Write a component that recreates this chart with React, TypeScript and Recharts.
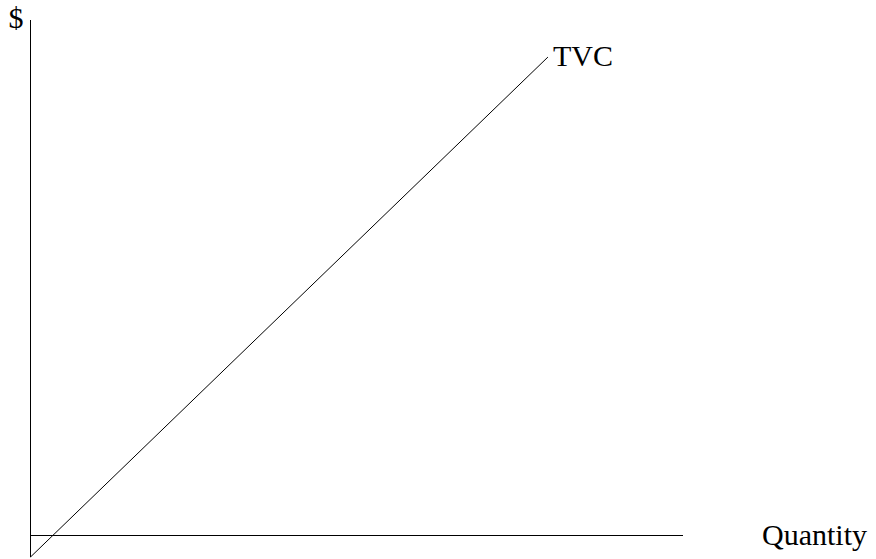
import React from 'react';
import { LineChart, Line, XAxis, YAxis, ReferenceLine, LabelList } from 'recharts';

// quantity (x) and total variable cost (y) in chart units
const quantity = [0, 79.3];
const tvc = [-4, 89.1];
const seriesName = 'TVC';
const xTitle = 'Quantity';
const yTitle = '$';

const data = quantity.map((q, i) => ({ q, tvc: tvc[i] }));

const textStyle: React.CSSProperties = {
  fontFamily: "'Liberation Serif', 'Times New Roman', Times, serif",
  fontSize: 30,
  fill: '#000',
};

const App: React.FC = () => {
  return (
    <div style={{ position: 'absolute', left: 0, top: 0, width: 876, height: 559, background: '#fff' }}>
      <LineChart
        width={876}
        height={559}
        data={data}
        margin={{ top: 20, right: 193, left: 30.5, bottom: 2 }}
      >
        <XAxis dataKey="q" type="number" domain={[0, 100]} hide />
        <YAxis type="number" domain={[-4, 96]} hide />
        <ReferenceLine
          x={0}
          stroke="#000"
          strokeWidth={1}
          shapeRendering="crispEdges"
          label={(props: any) => (
            <text x={props.viewBox.x - 22} y={props.viewBox.y + 8} style={textStyle}>
              {yTitle}
            </text>
          )}
        />
        <ReferenceLine
          y={0}
          stroke="#000"
          strokeWidth={1}
          shapeRendering="crispEdges"
          label={(props: any) => (
            <text x={props.viewBox.x + props.viewBox.width + 79} y={props.viewBox.y + 9} style={textStyle}>
              {xTitle}
            </text>
          )}
        />
        <Line
          dataKey="tvc"
          stroke="#000"
          strokeWidth={1}
          dot={false}
          isAnimationActive={false}
        >
          <LabelList
            dataKey="tvc"
            content={(props: any) =>
              props.index === data.length - 1 ? (
                <text x={props.x + 5} y={props.y + 9} style={textStyle}>
                  {seriesName}
                </text>
              ) : null
            }
          />
        </Line>
      </LineChart>
    </div>
  );
};

export default App;
